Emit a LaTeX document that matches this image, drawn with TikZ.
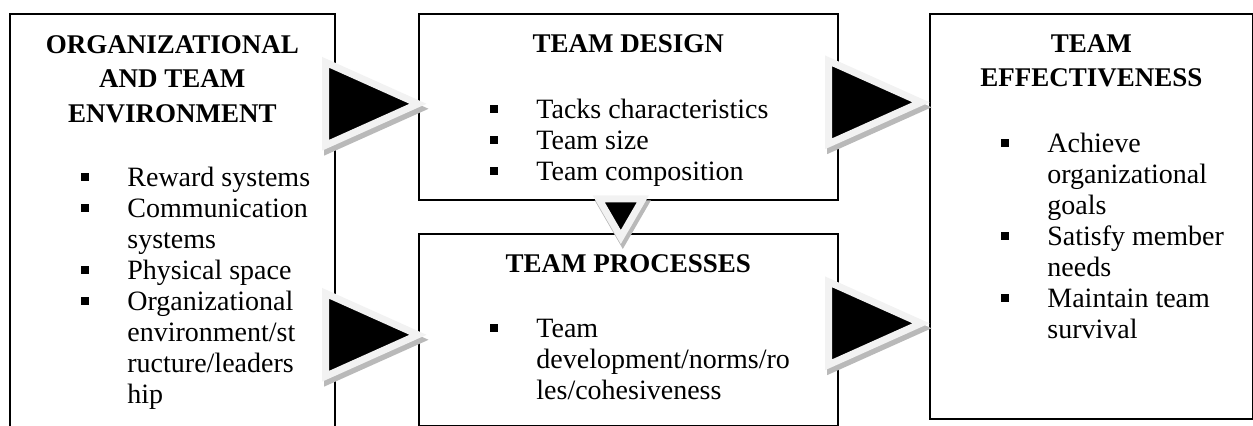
\documentclass[tikz,border=0pt]{standalone}
\usepackage{fontspec}
\setmainfont{Liberation Serif}
\usetikzlibrary{positioning, shapes.geometric, shadows, calc}

\newcommand{\bul}{\makebox[23pt][l]{\rule[2.7pt]{4pt}{4pt}}}
\newcommand{\cont}{\hspace*{23pt}}
\newcommand{\topgap}{\rule{0pt}{12pt}}

\begin{document}
\begin{tikzpicture}[
    x=0.5pt, y=0.5pt,
    box/.style={draw, rectangle, line width=0.8pt, inner sep=0pt, anchor=north west},
    head/.style={anchor=north, align=center, inner sep=0pt, font=\fontsize{13.5}{17.25}\selectfont\bfseries},
    items/.style={anchor=north west, align=left, inner sep=0pt, font=\fontsize{14}{15.5}\selectfont},
    tri/.style={isosceles triangle, isosceles triangle stretches, inner sep=0pt, outer sep=0pt, anchor=apex,
        minimum width=41.5pt, minimum height=46.25pt, fill=black, draw=gray!10, line width=3.5pt, line join=miter,
        drop shadow={shadow xshift=1pt, shadow yshift=-2.5pt, opacity=1, fill=gray!55, draw=gray!55, line width=3.5pt}}
]
    \useasboundingbox (0,0) rectangle (1253,-426);
    \clip (0,0) rectangle (1253,-426);

    \node[box, minimum width=162.5pt, minimum height=213.5pt] (env) at (9,-13) {};
    \node[box, minimum width=209.5pt, minimum height=93pt] (design) at (418,-13) {};
    \node[box, minimum width=209.5pt, minimum height=96.25pt] (procs) at (418,-233) {};
    \node[box, minimum width=161.5pt, minimum height=202.5pt] (effect) at (929,-13) {};

    \node[head, below=8pt of env.north] (envhead) {\topgap ORGANIZATIONAL\\AND TEAM\\ENVIRONMENT};
    \node[head, below=7.5pt of design.north] (designhead) {\topgap TEAM DESIGN};
    \node[head, below=7.35pt of procs.north] (procshead) {\topgap TEAM PROCESSES};
    \node[head, below=7.5pt of effect.north] (effecthead) {\topgap TEAM\\EFFECTIVENESS};

    \node[items] (envlist) at ($(env.north west)+(72,-149)$)
        {\topgap\bul Reward systems\\\bul Communication\\\cont systems\\\bul Physical space\\\bul Organizational\\\cont environment/st\\\cont ructure/leaders\\\cont hip};
    \node[items] (designlist) at ($(design.north west)+(72,-81)$)
        {\topgap\bul Tacks characteristics\\\bul Team size\\\bul Team composition};
    \node[items] (procslist) at ($(procs.north west)+(72,-80)$)
        {\topgap\bul Team\\\cont development/norms/ro\\\cont les/cohesiveness};
    \node[items] (effectlist) at ($(effect.north west)+(72,-115)$)
        {\topgap\bul Achieve\\\cont organizational\\\cont goals\\\bul Satisfy member\\\cont needs\\\bul Maintain team\\\cont survival};

    \node[tri] (envdesign) at ($(design.west)+(0,3)$) {};
    \node[tri] (envprocs) at ($(procs.west)+(0,-4.75)$) {};
    \node[tri] (designeffect) at ($(effect.west |- design.east)+(-8,4.5)$) {};
    \node[tri] (procseffect) at ($(effect.west |- procs.east)+(-8,6.75)$) {};
    \node[tri, shape border rotate=-90, minimum width=22pt, minimum height=19pt] (designprocs) at ($(procs.north)+(-7.5,-4)$) {};
\end{tikzpicture}
\end{document}
